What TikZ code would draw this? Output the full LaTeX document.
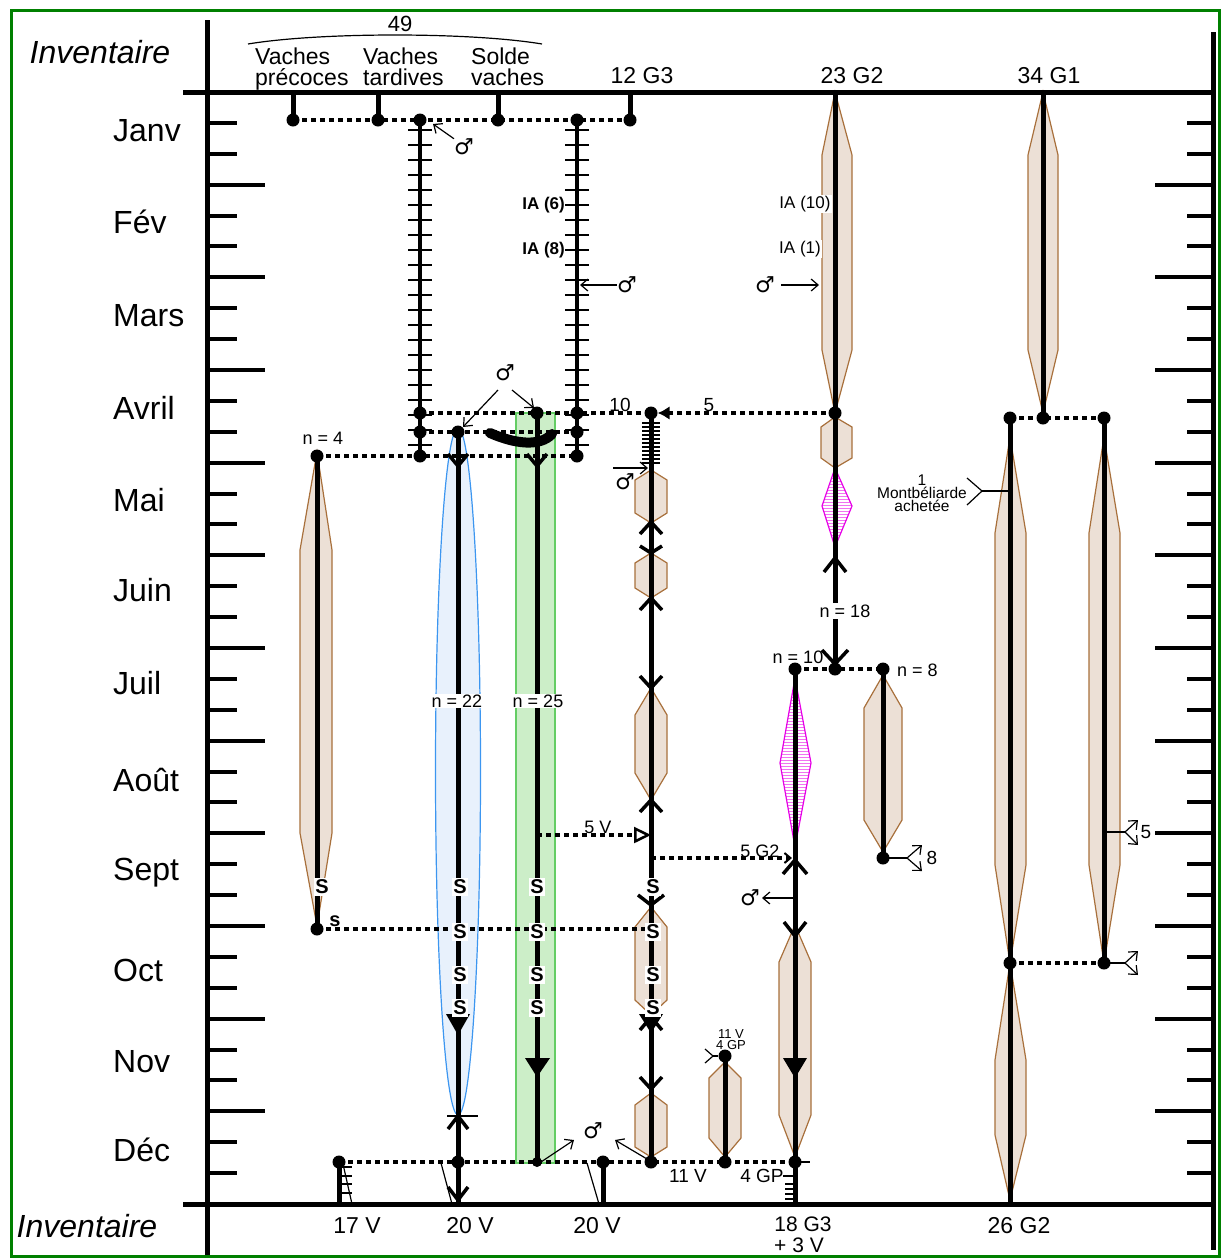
\documentclass[tikz,border=0pt]{standalone}
\usepackage{fontspec}
\setmainfont{Liberation Sans}
\newfontfamily\dejavu{DejaVu Sans}
\usetikzlibrary{patterns,arrows.meta}
\definecolor{brd}{RGB}{0,128,0}
\definecolor{spfill}{RGB}{236,224,214}
\definecolor{spdraw}{RGB}{168,112,60}
\definecolor{blfill}{RGB}{232,241,252}
\definecolor{bldraw}{RGB}{60,150,240}
\definecolor{grfill}{RGB}{204,238,200}
\definecolor{grdraw}{RGB}{100,205,100}
\definecolor{mag}{RGB}{230,0,230}
\newcommand{\myfs}[2]{\fontsize{#1}{#2}\selectfont}
\begin{document}
\begin{tikzpicture}[x=1pt,y=-1pt,
  axisline/.style={line width=5pt},
  stem/.style={line width=5pt},
  ladder/.style={line width=4pt},
  rung/.style={line width=1.4pt},
  tickl/.style={line width=4pt},
  dotline/.style={line width=4pt,dash pattern=on 5pt off 4pt},
  bdot/.style={circle,fill=black,inner sep=0pt,minimum size=13pt},
  chev/.style={line width=3.5pt},
  thinl/.style={line width=1.2pt},
  arr/.style={-{Straight Barb[length=7pt,width=12pt]}},
  spindle/.style={fill=spfill,draw=spdraw,line width=1.2pt},
  magd/.style={pattern=horizontal lines,pattern color=mag!55,draw=mag,line width=1.2pt},
  monthlab/.style={anchor=west,font=\myfs{32}{32},inner sep=0pt},
  headlab/.style={font=\myfs{23}{23},anchor=base west,inner sep=0pt},
  big/.style={font=\myfs{23}{20},align=center,inner sep=0pt},
  bigb/.style={font=\myfs{21}{21},anchor=base,inner sep=0pt},
  slab/.style={font=\bfseries\myfs{20}{20},fill=white,inner sep=1.5pt},
  male/.style={font=\dejavu\myfs{22}{22},inner sep=0pt},
]
\useasboundingbox (0,0) rectangle (1223,1259);

% ---------- filled areas ----------
\draw[fill=blfill,draw=bldraw,line width=1.2pt] (458,771.5) ellipse [x radius=22.5, y radius=343.5];
\draw[fill=grfill,draw=grdraw,line width=1.2pt] (516,413) rectangle (555,1163);
% precoces spindle
\draw[spindle] (317,452) -- (332,550) -- (332,833) -- (317,926) -- (300,833) -- (300,550) -- cycle;
% 12 G3 hexagons
\draw[spindle] (651,470) -- (667,480) -- (667,513) -- (651,523) -- (635,513) -- (635,480) -- cycle;
\draw[spindle] (651,553) -- (667,563) -- (667,588) -- (651,598) -- (635,588) -- (635,563) -- cycle;
\draw[spindle] (651,688) -- (667,715) -- (667,773) -- (651,800) -- (635,773) -- (635,715) -- cycle;
\draw[spindle] (651,907) -- (667,927) -- (667,1000) -- (651,1015) -- (635,1000) -- (635,927) -- cycle;
\draw[spindle] (651,1093) -- (667,1105) -- (667,1147) -- (651,1157) -- (635,1147) -- (635,1105) -- cycle;
% 23 G2
\draw[spindle] (835,92) -- (852,155) -- (852,350) -- (835,413) -- (822,350) -- (822,155) -- cycle;
\draw[spindle] (835,417) -- (852,427) -- (852,458) -- (835,468) -- (821,458) -- (821,427) -- cycle;
\draw[magd] (835,468) -- (852,506) -- (835,547) -- (822,506) -- cycle;
\draw[magd] (795,678) -- (811,763) -- (795,847) -- (780,763) -- cycle;
\draw[spindle] (883,675) -- (902,708) -- (902,820) -- (883,852) -- (864,820) -- (864,708) -- cycle;
\draw[spindle] (795,925) -- (811,962) -- (811,1115) -- (795,1157) -- (779,1115) -- (779,962) -- cycle;
\draw[spindle] (725,1062) -- (741,1078) -- (741,1138) -- (725,1157) -- (709,1138) -- (709,1078) -- cycle;
% 34 G1
\draw[spindle] (1043,92) -- (1058,155) -- (1058,350) -- (1043,413) -- (1028,350) -- (1028,155) -- cycle;
\draw[spindle] (1010,437) -- (1026,533) -- (1026,865) -- (1010,963) -- (995,865) -- (995,533) -- cycle;
\draw[spindle] (1010,963) -- (1026,1060) -- (1026,1135) -- (1010,1200) -- (995,1135) -- (995,1060) -- cycle;
\draw[spindle] (1104,437) -- (1120,533) -- (1120,865) -- (1104,963) -- (1089,865) -- (1089,533) -- cycle;

% ---------- axes ----------
\coordinate (axL1) at (207,20);   \coordinate (axL2) at (207,1255);
\coordinate (axT1) at (183,92);   \coordinate (axT2) at (1213,92);
\coordinate (axB1) at (183,1204); \coordinate (axB2) at (1213,1204);
\coordinate (axR1) at (1213,32);  \coordinate (axR2) at (1213,1250);
\draw[axisline] (axL1) -- (axL2);
\draw[axisline] (axT1) -- (axT2);
\draw[axisline] (axB1) -- (axB2);
\draw[axisline] (axR1) -- (axR2);
\foreach \k in {0,...,11}{
  \pgfmathsetmacro{\ya}{92+\k*92.667+30.89}
  \pgfmathsetmacro{\yb}{92+\k*92.667+61.78}
  \draw[tickl] (207,\ya) -- (237,\ya);
  \draw[tickl] (207,\yb) -- (237,\yb);
  \draw[tickl] (1187,\ya) -- (1213,\ya);
  \draw[tickl] (1187,\yb) -- (1213,\yb);
}
\foreach \k in {1,...,11}{
  \pgfmathsetmacro{\yc}{92+\k*92.667}
  \draw[tickl] (207,\yc) -- (265,\yc);
  \draw[tickl] (1155,\yc) -- (1213,\yc);
}

% ---------- text: months & headers ----------
\node[font=\itshape\myfs{32}{32}] (invT) at (100,52) {Inventaire};
\node[font=\itshape\myfs{32}{32}] (invB) at (87,1226) {Inventaire};
\node[monthlab] (m1) at (113,131) {Janv};
\node[monthlab] (m2) at (113,222) {Fév};
\node[monthlab] (m3) at (113,316) {Mars};
\node[monthlab] (m4) at (113,408) {Avril};
\node[monthlab] (m5) at (113,500) {Mai};
\node[monthlab] (m6) at (113,590) {Juin};
\node[monthlab] (m7) at (113,683) {Juil};
\node[monthlab] (m8) at (113,780) {Août};
\node[monthlab] (m9) at (113,873) {Sept};
\node[monthlab] (m10) at (113,970) {Oct};
\node[monthlab] (m11) at (113,1062) {Nov};
\node[monthlab] (m12) at (113,1150) {Déc};

\node[big,font=\myfs{22}{22}] (n49) at (400,24) {49};
\draw[thinl] (248,44) .. controls (320,32) and (470,32) .. (542,44);
\node[headlab] (hvp1) at (255,64.5) {Vaches};
\node[headlab] (hvp2) at (255,85) {précoces};
\node[headlab] (hvt1) at (363,64.5) {Vaches};
\node[headlab] (hvt2) at (363,85) {tardives};
\node[headlab] (hsv1) at (471,64.5) {Solde};
\node[headlab] (hsv2) at (471,85) {vaches};
\node[big] (h12) at (642,76) {12 G3};
\node[big] (h23) at (852,76) {23 G2};
\node[big] (h34) at (1049,76) {34 G1};

% ---------- dots ----------
\node[bdot] (vp) at (293,120) {};
\node[bdot] (vt) at (378,120) {};
\node[bdot] (sv) at (498,120) {};
\node[bdot] (gt) at (630,120) {};
\node[bdot] (la0) at (420,120) {};
\node[bdot] (lb0) at (577,120) {};
\node[bdot] (la1) at (420,413) {};
\node[bdot] (la2) at (420,432) {};
\node[bdot] (la3) at (420,456) {};
\node[bdot] (lb1) at (577,413) {};
\node[bdot] (lb2) at (577,432) {};
\node[bdot] (lb3) at (577,456) {};
\node[bdot] (gr1) at (537,413) {};
\node[bdot] (bl1) at (458,432) {};
\node[bdot] (p1) at (317,456) {};
\node[bdot] (p2) at (317,929) {};
\node[bdot] (c1) at (651,413) {};
\node[bdot] (c2) at (651,1162) {};
\node[bdot] (e1) at (835,413) {};
\node[bdot] (e2) at (835,669) {};
\node[bdot] (f1) at (795,669) {};
\node[bdot] (f2) at (795,1162) {};
\node[bdot] (h1) at (883,669) {};
\node[bdot] (h2) at (883,858) {};
\node[bdot] (k1) at (725,1056) {};
\node[bdot] (k2) at (725,1162) {};
\node[bdot] (q0) at (1043,418) {};
\node[bdot] (q1) at (1010,418) {};
\node[bdot] (q2) at (1010,963) {};
\node[bdot] (r1) at (1104,418) {};
\node[bdot] (r2) at (1104,963) {};
\node[bdot] (s1) at (339,1162) {};
\node[bdot] (bl2) at (458,1162) {};
\node[bdot,minimum size=10pt] (gr2) at (537,1162) {};
\node[bdot] (t1) at (603,1162) {};

% ---------- top stems ----------
\coordinate (tvp) at (293,92); \coordinate (tvt) at (378,92);
\coordinate (tsv) at (498,92); \coordinate (tgt) at (630,92);
\draw[stem] (tvp) -- (vp.center);
\draw[stem] (tvt) -- (vt.center);
\draw[stem] (tsv) -- (sv.center);
\draw[stem] (tgt) -- (gt.center);
\draw[dotline] (vp.center) -- (gt.center);

% ---------- ladders ----------
\draw[ladder] (la0.center) -- (la3.center);
\draw[ladder] (lb0.center) -- (lb3.center);
\foreach \y in {130,145,...,445}{
  \draw[rung] (408,\y) -- (432,\y);
  \draw[rung] (565,\y) -- (589,\y);
}
\node[font=\bfseries\myfs{17}{17},anchor=east,inner sep=0pt] (ia6) at (565,205) {IA (6)};
\node[font=\bfseries\myfs{17}{17},anchor=east,inner sep=0pt] (ia8) at (565,250) {IA (8)};
\node[male] (mA) at (464,147) {♂};
\coordinate (mAe) at (433,124);
\draw[thinl,arr] (mA.north west) -- (mAe);
\node[male] (mB) at (627,285) {♂};
\coordinate (mBe) at (580,285);
\draw[thinl,arr] (mB.west) -- (mBe);

% ---------- April horizontal links ----------
\draw[dotline] (la1.center) -- (c1.center);
\draw[dotline,-{Latex[length=12pt,width=14pt]}] (e1.center) -- (c1);
\draw[dotline] (la2.center) -- (lb2.center);
\draw[dotline] (p1.center) -- (lb3.center);
\draw[line width=10pt,line cap=round] (490,433) .. controls (515,444) and (540,447) .. (552,434);
\node[male] (mC) at (505,373) {♂};
\coordinate (mC1) at (463,427); \coordinate (mC2) at (534,408);
\draw[thinl,arr] (498,390) -- (mC1);
\draw[thinl,arr] (512,390) -- (mC2);
\node[font=\myfs{19}{19},inner sep=0pt] (l10) at (620,405) {10};
\node[font=\myfs{19}{19},inner sep=0pt] (l5) at (709,405) {5};
\node[font=\myfs{18}{18},inner sep=0pt] (n4) at (323,438) {n = 4};

% ---------- column precoces ----------
\draw[stem] (p1.center) -- (p2.center);
\draw[dotline] (p2.center) -- (651,929);

% ---------- column 458 (blue) ----------
\coordinate (bl3) at (458,1204);
\draw[stem] (bl1.center) -- (bl3);
\draw[chev] (448,454) -- (458,466) -- (468,454);
\fill (446,1014) -- (470,1014) -- (458,1035) -- cycle;
\draw[thinl] (447,1116) -- (478,1116);
\draw[chev] (448,1129) -- (458,1116) -- (468,1129);
\draw[chev] (448,1187) -- (458,1200) -- (468,1187);
\draw[thinl] (441,1163) -- (452,1204);

% ---------- column 537 (green) ----------
\draw[stem] (gr1.center) -- (gr2.center);
\draw[chev] (527,454) -- (537,466) -- (547,454);
\coordinate (c5v) at (651,835);
\draw[dotline,-{Triangle[open,length=17pt,width=16pt,line width=2.5pt]}] (537,835) -- (c5v);
\node[font=\myfs{18}{18},inner sep=0pt] (l5v) at (598,827) {5 V};
\fill (525,1058) -- (550,1058) -- (537,1077) -- cycle;
\node[male] (mD) at (593,1131) {♂};
\coordinate (mD1) at (574,1140); \coordinate (mD2) at (615,1140);
\draw[thinl,arr] (541,1162) -- (mD1);
\draw[thinl,arr] (647,1159) -- (mD2);

% ---------- column 12 G3 ----------
\draw[stem] (c1.center) -- (c2.center);
\foreach \y in {423,427,...,463}{ \draw[line width=1.2pt] (642,\y) -- (660,\y); }
\node[male] (mE) at (625,482) {♂};
\coordinate (mEe) at (648,468);
\draw[thinl,arr] (613,468) -- (mEe);
\draw[chev] (640,534) -- (651,522) -- (662,534);
\draw[chev] (640,546) -- (651,553) -- (662,546);
\draw[chev] (640,610) -- (651,598) -- (662,610);
\draw[chev] (640,676) -- (651,688) -- (662,676);
\draw[chev] (640,812) -- (651,800) -- (662,812);
\draw[chev] (638,895) -- (651,905) -- (664,895);
\fill (639,1014) -- (663,1014) -- (651,1033) -- cycle;
\draw[chev] (640,1030) -- (651,1017) -- (662,1030);
\draw[chev] (640,1077) -- (651,1089) -- (662,1077);
\draw[dotline,-{Straight Barb[length=6pt,width=10pt,line width=2pt]}] (651,858) -- (792,858);
\node[font=\myfs{18}{18},inner sep=0pt] (l5g2) at (760,851) {5 G2};

% ---------- column 23 G2 ----------
\coordinate (e0) at (835,92);
\draw[stem] (e0) -- (e2.center);
\node[font=\myfs{17}{17},fill=white,inner sep=1pt] (ia10) at (805,204) {IA (10)};
\node[font=\myfs{17}{17},fill=white,inner sep=1pt] (ia1) at (800,249) {IA (1)};
\node[male] (mF) at (765,285) {♂};
\coordinate (mFe) at (819,285);
\draw[thinl,arr] (781,285) -- (mFe);
\draw[chev] (824,572) -- (835,558) -- (846,572);
\node[font=\myfs{18}{18},fill=white,inner sep=1.5pt] (n18) at (845,611) {n = 18};
\draw[chev] (822,650) -- (835,664) -- (848,650);
\draw[dotline] (f1.center) -- (h1.center);
\node[font=\myfs{18}{18},inner sep=0pt] (n10) at (798,657) {n = 10};
\node[font=\myfs{18}{18},inner sep=0pt,anchor=west] (n8) at (897,670) {n = 8};

% ---------- column 795 ----------
\coordinate (f3) at (795,1204);
\draw[stem] (f1.center) -- (f3);
\draw[chev] (783,874) -- (795,860) -- (807,874);
\node[male] (mG) at (750,898) {♂};
\coordinate (mGe) at (762,898);
\draw[thinl,arr] (793,898) -- (mGe);
\draw[chev] (784,922) -- (795,936) -- (806,922);
\fill (783,1058) -- (807,1058) -- (795,1078) -- cycle;
\draw[thinl] (795,1162) -- (810,1162);
\node[font=\myfs{19}{19},inner sep=0pt] (l4gp) at (762,1176) {4 GP};
\draw[thinl] (783,1176) -- (795,1176);
\foreach \y in {1184,1189,1194,1199}{ \draw[thinl] (785,\y) -- (795,\y); }

% ---------- column 883 ----------
\draw[stem] (h1.center) -- (h2.center);
\coordinate (h3) at (907,858);
\draw[thinl] (h2.center) -- (h3);
\draw[thinl,arr] (h3) -- (922,845);
\draw[thinl,arr] (h3) -- (922,871);
\node[font=\myfs{19}{19},inner sep=0pt] (l8) at (932,858) {8};

% ---------- column 725 ----------
\draw[stem] (k1.center) -- (k2.center);
\coordinate (k0) at (713,1056);
\draw[thinl] (705,1049) -- (k0) -- (705,1063);
\draw[thinl] (k0) -- (k1);
\node[font=\myfs{13}{11},align=center,inner sep=0pt] (l11v) at (731,1040) {11 V\\4 GP};

% ---------- bottom line ----------
\draw[dotline] (s1.center) -- (f2.center);
\coordinate (s0) at (339,1204);
\draw[stem] (s1.center) -- (s0);
\foreach \y in {1167,1176,1184,1193}{ \draw[thinl] (339,\y) -- (352,\y); }
\draw[thinl] (343,1164) -- (352,1204);
\coordinate (t0) at (603,1204);
\draw[stem] (t1.center) -- (t0);
\draw[thinl] (587,1163) -- (599,1204);
\node[big] (b17) at (357,1226) {17 V};
\node[big] (b20a) at (470,1226) {20 V};
\node[big] (b20b) at (597,1226) {20 V};
\node[bigb] (b18a) at (803,1231) {18 G3};
\node[bigb] (b18b) at (799,1252) {+ 3 V};
\node[big] (b26) at (1019,1226) {26 G2};
\node[font=\myfs{19}{19},inner sep=0pt] (l11) at (688,1176) {11 V};

% ---------- column 34 G1 ----------
\coordinate (q00) at (1043,92);
\draw[stem] (q00) -- (q0.center);
\draw[dotline] (q1.center) -- (r1.center);
\coordinate (q3) at (1010,1204);
\draw[stem] (q1.center) -- (q3);
\draw[stem] (r1.center) -- (r2.center);
\draw[dotline] (q2.center) -- (r2.center);
\node[font=\myfs{15.5}{13},align=center,inner sep=0pt] (mont) at (922,493) {1\\Montbéliarde\\achetée};
\coordinate (mo) at (982,491);
\draw[thinl] (967,478) -- (mo) -- (967,505);
\draw[thinl] (mo) -- (1008,491);
\coordinate (r5) at (1125,832);
\draw[thinl] (1104,832) -- (r5);
\draw[thinl,arr] (r5) -- (1138,820);
\draw[thinl,arr] (r5) -- (1138,845);
\node[font=\myfs{19}{19},inner sep=0pt] (l5r) at (1146,832) {5};
\coordinate (r6) at (1125,963);
\draw[thinl] (r2.center) -- (r6);
\draw[thinl,arr] (r6) -- (1138,951);
\draw[thinl,arr] (r6) -- (1138,975);

% ---------- S labels ----------
\node[slab] at (322,887) {S};
\node[font=\bfseries\myfs{20}{20},inner sep=0pt] at (335,921) {s};
\foreach \x in {460,537,653}{
  \foreach \y in {887,932,975,1008}{ \node[slab] at (\x,\y) {S}; }
}
\node[font=\myfs{18}{18},fill=white,inner sep=1pt] (n22) at (457,701) {n = 22};
\node[font=\myfs{18}{18},fill=white,inner sep=1pt] (n25) at (538,701) {n = 25};

% ---------- frame ----------
\draw[brd,line width=3pt] (11,10) rectangle (1219,1256);
\end{tikzpicture}
\end{document}
